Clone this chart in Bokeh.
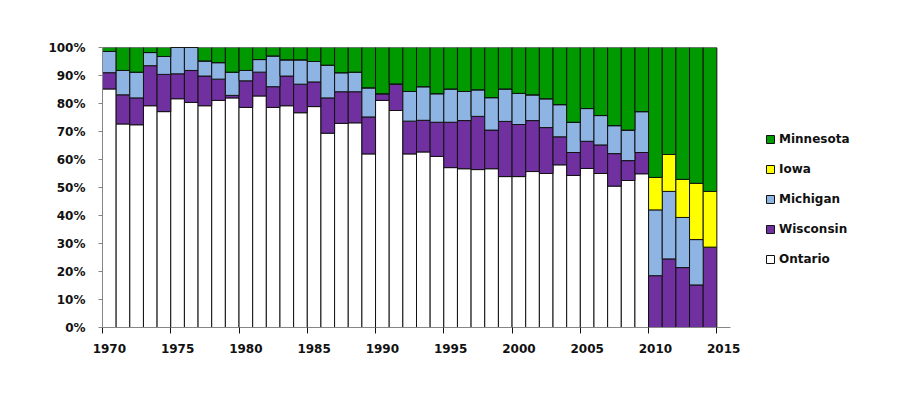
from bokeh.plotting import figure
from bokeh.models import (Range1d, FixedTicker, CustomJSTickFormatter, PrintfTickFormatter,
                          Legend, LegendItem, ColumnDataSource)
from bokeh.embed import file_html
from bokeh.resources import INLINE

years = list(range(1970, 2015))
ontario = [85.2, 72.7, 72.4, 79.2, 77.1, 81.7, 80.4, 79.2, 81.1, 82.0,
           78.6, 82.7, 78.6, 79.2, 76.7, 78.9, 69.4, 72.9, 73.1, 62.0,
           81.1, 77.5, 62.0, 62.7, 61.1, 57.1, 56.7, 56.4, 56.7, 53.9,
           53.9, 55.7, 55.0, 58.1, 54.3, 56.8, 55.0, 50.5, 52.5, 54.9,
           0, 0, 0, 0, 0]
wisconsin = [5.8, 10.4, 9.6, 14.3, 13.3, 8.9, 11.4, 10.6, 7.6, 0.9,
             9.5, 8.5, 7.4, 10.6, 10.2, 8.8, 12.6, 11.3, 11.1, 13.2,
             2.4, 9.5, 11.7, 11.3, 12.2, 16.2, 17.2, 19.0, 13.8, 19.7,
             18.6, 18.2, 16.4, 10.0, 8.2, 9.7, 10.2, 11.6, 7.1, 7.6,
             18.5, 24.5, 21.4, 15.2, 28.7]
michigan = [7.6, 8.7, 9.2, 4.7, 6.4, 9.4, 8.2, 5.4, 5.9, 8.3,
            3.7, 4.5, 11.0, 5.8, 8.7, 7.3, 11.7, 6.8, 7.0, 10.4,
            0, 0, 10.6, 12.0, 10.2, 11.9, 10.4, 9.5, 11.6, 11.6,
            11.1, 9.2, 10.3, 11.5, 10.8, 11.7, 10.5, 10.0, 10.9, 14.6,
            23.5, 24.1, 17.9, 16.2, 0]
iowa = [0] * 40 + [11.6, 13.2, 13.6, 20.1, 19.9]
minnesota = [1.4, 8.2, 8.8, 1.8, 3.2, 0, 0, 4.8, 5.4, 8.8,
             8.2, 4.3, 3.0, 4.4, 4.4, 5.0, 6.3, 9.0, 8.8, 14.4,
             16.5, 13.0, 15.7, 14.0, 16.5, 14.8, 15.7, 15.1, 17.9, 14.8,
             16.4, 16.9, 18.3, 20.4, 26.7, 21.8, 24.3, 27.9, 29.5, 22.9,
             46.4, 38.2, 47.1, 48.5, 51.4]

series = ["Ontario", "Wisconsin", "Michigan", "Iowa", "Minnesota"]
colors = ["#FFFFFF", "#7030A0", "#8DB4E2", "#FFFF00", "#009900"]
x_tick_years = [1970, 1975, 1980, 1985, 1990, 1995, 2000, 2005, 2010, 2015]
y_ticks = [0, 10, 20, 30, 40, 50, 60, 70, 80, 90, 100]

src = ColumnDataSource(dict(
    xc=[y + 0.5 for y in years],
    Ontario=ontario, Wisconsin=wisconsin, Michigan=michigan,
    Iowa=iowa, Minnesota=minnesota,
))

FONT = "DejaVu Sans"

p = figure(frame_width=628, frame_height=280,
           x_range=Range1d(1970, 2016), y_range=Range1d(0, 100),
           output_backend="svg", toolbar_location=None,
           min_border_left=102, min_border_right=154,
           min_border_top=47, min_border_bottom=57)
p.outline_line_color = None
p.xgrid.visible = False
p.ygrid.visible = False
p.background_fill_color = None
p.border_fill_color = "white"

rs = p.vbar_stack(series, x="xc", width=1, color=colors, source=src,
                  line_color="#111111", line_width=1)

# x axis: labels centered on slots, tick marks at slot boundaries
xa = p.xaxis[0]
xa.ticker = FixedTicker(ticks=[y + 0.5 for y in x_tick_years], minor_ticks=x_tick_years)
xa.formatter = CustomJSTickFormatter(code="return Math.floor(tick).toString();")
xa.major_tick_line_color = None
xa.major_tick_out = 6
xa.major_tick_in = 0
xa.minor_tick_line_color = "#111111"
xa.minor_tick_out = 6
xa.minor_tick_in = 0
xa.axis_line_color = "#868686"
xa.major_label_standoff = 10
xa.major_label_text_font = FONT
xa.major_label_text_font_style = "bold"
xa.major_label_text_font_size = "12px"
xa.major_label_text_color = "#111111"

ya = p.yaxis[0]
ya.ticker = FixedTicker(ticks=y_ticks, minor_ticks=[])
ya.formatter = PrintfTickFormatter(format="%d%%")
ya.major_tick_out = 4
ya.major_tick_in = 0
ya.major_tick_line_color = "#868686"
ya.minor_tick_line_color = None
ya.axis_line_color = "#868686"
ya.major_label_standoff = 13
ya.major_label_text_font = FONT
ya.major_label_text_font_style = "bold"
ya.major_label_text_font_size = "12px"
ya.major_label_text_color = "#111111"

items = [LegendItem(label=s, renderers=[r]) for s, r in zip(series, rs)][::-1]
legend = Legend(items=items, location=(35, 59), padding=0, margin=0,
                border_line_color=None, background_fill_alpha=0,
                glyph_width=10, glyph_height=10, label_height=18,
                label_standoff=4, spacing=12,
                label_text_font=FONT, label_text_font_style="bold",
                label_text_font_size="12px", label_text_color="#111111")
p.add_layout(legend, "right")

open("out.html", "w").write(file_html(p, INLINE))
